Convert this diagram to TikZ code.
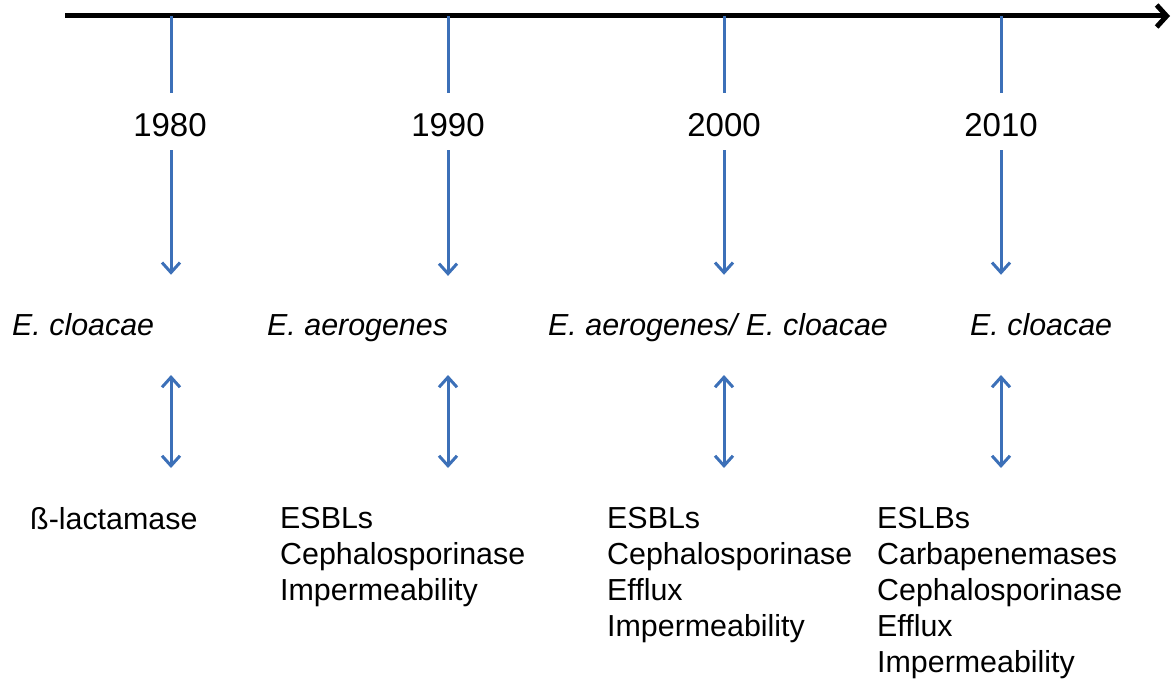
\documentclass[tikz,border=0pt]{standalone}
\usepackage{fontspec}
\setmainfont{Liberation Sans}
\usetikzlibrary{arrows.meta}
\definecolor{lineblue}{HTML}{3C70B8}

\begin{document}
\begin{tikzpicture}[
  x=1pt,y=-1pt,
  every node/.style={font=\fontsize{30.4}{36}\selectfont,inner sep=0pt},
  year/.style={font=\fontsize{33}{40}\selectfont,text height=24pt,text depth=0pt},
  species/.style={anchor=base west,font=\fontsize{30.4}{36}\selectfont\itshape},
  mech/.style={anchor=north west,align=left},
  tick/.style={lineblue,line width=3pt},
  down/.style={tick,-{Straight Barb[length=10pt,width=18pt]}},
  both/.style={tick,{Straight Barb[length=10pt,width=18pt]}-{Straight Barb[length=10pt,width=18pt]}},
  axis/.style={line width=5pt,-{Straight Barb[length=10pt,width=22pt]}}
]
\useasboundingbox (0,0) rectangle (1174,679);
% time axis
\coordinate (start) at (65,16);
\coordinate (stop) at (1170,16);
\draw[axis] (start) -- (stop);
% years
\coordinate (t1) at (171,16);
\coordinate (t2) at (448,16);
\coordinate (t3) at (724,16);
\coordinate (t4) at (1001,16);
\node[year] (y1) at (170,124.5) {1980};
\node[year] (y2) at (448,124.5) {1990};
\node[year] (y3) at (724,124.5) {2000};
\node[year] (y4) at (1001,124.5) {2010};
% species
\node[species] (s1) at (12,335) {E. cloacae};
\node[species] (s2) at (267,335) {E. aerogenes};
\node[species] (s3) at (548,335) {E. aerogenes/ E. cloacae};
\node[species] (s4) at (970,335) {E. cloacae};
% mechanisms
\node[mech] (m1) at (30,507) {ß-lactamase};
\node[mech] (m2) at (280,507) {ESBLs\\Cephalosporinase\\Impermeability};
\node[mech] (m3) at (607,507) {ESBLs\\Cephalosporinase\\Efflux\\Impermeability};
\node[mech] (m4) at (877,507) {ESLBs\\Carbapenemases\\Cephalosporinase\\Efflux\\Impermeability};
% connectors
\foreach \i in {1,2,3,4}{
  \draw[tick,shorten >=19.5pt] (t\i) -- (t\i |- y\i.north);
  \draw[down,shorten <=13.5pt,shorten >=38pt] (t\i |- y\i.south) -- (t\i |- s\i.north);
  \draw[both,shorten <=40pt,shorten >=39pt] (t\i |- s\i.base) -- (t\i |- m\i.north);
}
\end{tikzpicture}
\end{document}
